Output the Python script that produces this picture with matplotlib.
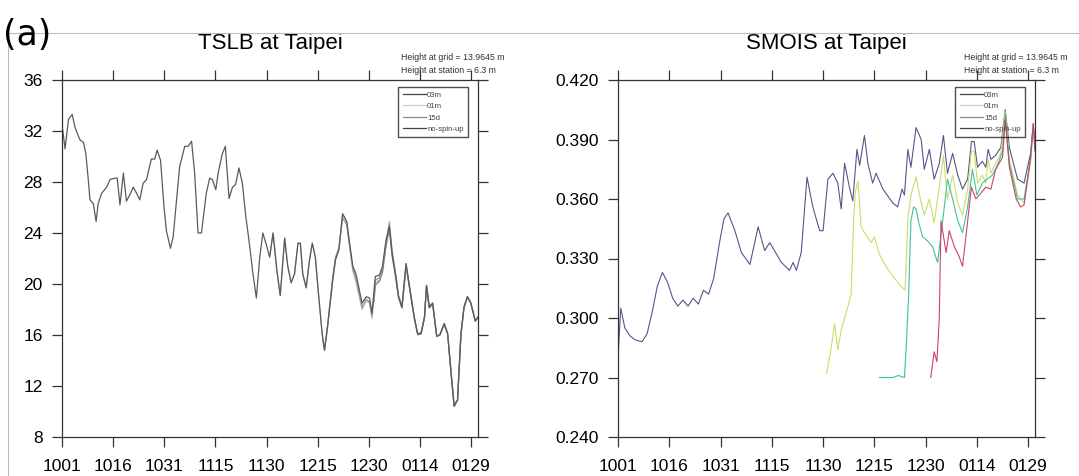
import matplotlib
matplotlib.use("Agg")
import matplotlib.pyplot as plt
from matplotlib.lines import Line2D

plt.rcParams["font.family"] = ["Liberation Sans", "DejaVu Sans"]

# x axis: days since 1 Oct
tick_days = [0, 15, 30, 45, 60, 75, 90, 105, 120]
tick_labels = ["1001", "1016", "1031", "1115", "1130", "1215", "1230", "0114", "0129"]
exp_names = ["03m", "01m", "15d", "no-spin-up"]

# ---- TSLB (left) ----
tslb_03m_day = [0.2, 0.9, 1.9, 2.4, 3.0, 3.8, 4.8, 5.3, 6.3, 7.0,
                7.7, 8.2, 9.2, 10.0, 10.6, 11.6, 13.1, 14.1, 15.5, 16.2,
                17.0, 18.0, 18.9, 19.9, 20.9, 21.9, 22.8, 23.8, 24.8, 26.2,
                27.2, 27.9, 28.9, 29.9, 30.6, 31.8, 32.6, 33.6, 34.5, 36.0,
                37.0, 38.0, 38.9, 39.9, 40.9, 42.3, 43.3, 44.1, 45.1, 45.8,
                47.0, 47.9, 49.0, 50.0, 50.9, 51.9, 52.9, 53.9, 54.8, 56.0,
                57.0, 58.0, 58.9, 59.9, 60.9, 61.9, 63.0, 64.0, 65.3, 66.2,
                67.2, 68.2, 69.2, 69.9, 70.6, 71.6, 72.6, 73.4, 74.3, 75.3,
                76.3, 77.0, 77.9, 79.4, 80.2, 81.2, 82.3, 83.5, 84.5, 85.3,
                86.2, 88.0, 89.2, 90.2, 90.9, 91.9, 93.1, 94.0, 95.0, 96.0,
                96.8, 97.8, 98.7, 99.7, 100.9, 101.9, 103.3, 104.3, 105.3, 106.3,
                106.9, 107.7, 108.7, 109.9, 110.8, 112.1, 113.1, 114.1, 115.0, 116.0,
                117.0, 117.9, 118.9, 119.9, 121.2, 122.0]
tslb_03m = [32.1, 30.6, 32.9, 33.1, 33.3, 32.3, 31.6, 31.3, 31.1, 30.2,
            28.2, 26.6, 26.3, 24.9, 26.3, 27.1, 27.6, 28.2, 28.3, 28.3,
            26.2, 28.7, 26.5, 27.0, 27.6, 27.1, 26.6, 27.9, 28.2, 29.8,
            29.8, 30.5, 29.7, 26.1, 24.2, 22.8, 23.7, 26.6, 29.2, 30.8,
            30.8, 31.2, 28.7, 24.0, 24.0, 27.1, 28.3, 28.2, 27.4, 28.7,
            30.2, 30.8, 26.7, 27.6, 27.8, 29.1, 27.9, 25.3, 23.5, 20.8,
            18.9, 22.1, 24.0, 23.1, 22.1, 24.0, 21.1, 19.1, 23.6, 21.4,
            20.1, 20.8, 23.2, 23.2, 20.8, 19.7, 21.9, 23.2, 22.1, 19.0,
            16.1, 14.8, 16.7, 20.3, 21.9, 22.7, 25.5, 24.9, 22.9, 21.4,
            20.8, 18.5, 19.0, 18.9, 17.7, 20.6, 20.7, 21.4, 23.4, 24.5,
            22.4, 20.8, 19.0, 18.2, 21.6, 19.8, 17.4, 16.1, 16.1, 17.4,
            19.9, 18.2, 18.5, 15.9, 16.0, 16.9, 16.1, 13.0, 10.4, 10.9,
            16.1, 18.2, 19.0, 18.5, 17.1, 17.4]

tslb_01m_day = [61.0, 61.9, 63.0, 64.0, 65.3, 66.2, 67.2, 68.2, 69.2, 69.9,
                70.6, 71.6, 72.6, 73.4, 74.3, 75.3, 76.3, 77.0, 77.9, 79.4,
                80.2, 81.2, 82.3, 83.5, 84.5, 85.3, 86.2, 88.0, 89.2, 90.2,
                90.9, 91.9, 93.1, 94.0, 95.0, 96.0, 96.8, 97.8, 98.7, 99.7,
                100.9, 101.9, 103.3, 104.3, 105.3, 106.3, 106.9, 107.7, 108.7, 109.9,
                110.8, 112.1, 113.1, 114.1, 115.0, 116.0, 117.0, 117.9, 118.9, 119.9,
                121.2, 122.0]
tslb_01m = [22.3, 24.0, 21.1, 19.1, 23.6, 21.4, 20.1, 20.8, 23.2, 23.2,
            20.8, 19.7, 21.9, 23.2, 22.1, 19.0, 16.1, 14.8, 16.7, 20.3,
            21.9, 22.7, 25.5, 24.9, 22.6, 21.0, 20.2, 18.0, 18.7, 18.5,
            17.3, 20.1, 20.3, 21.1, 23.1, 24.9, 22.7, 20.9, 19.1, 18.3,
            21.6, 19.8, 17.4, 16.1, 16.1, 17.4, 19.9, 18.2, 18.5, 15.9,
            16.0, 16.9, 16.1, 13.0, 10.4, 10.9, 16.1, 18.2, 19.0, 18.5,
            17.1, 17.4]

tslb_15d_day = [76.5, 77.0, 77.9, 79.4, 80.2, 81.2, 82.3, 83.5, 84.5, 85.3,
                86.2, 88.0, 89.2, 90.2, 90.9, 91.9, 93.1, 94.0, 95.0, 96.0,
                96.8, 97.8, 98.7, 99.7, 100.9, 101.9, 103.3, 104.3, 105.3, 106.3,
                106.9, 107.7, 108.7, 109.9, 110.8, 112.1, 113.1, 114.1, 115.0, 116.0,
                117.0, 117.9, 118.9, 119.9, 121.2, 122.0]
tslb_15d = [15.6, 14.9, 16.8, 20.6, 22.1, 22.8, 25.2, 24.6, 22.7, 21.2,
            20.5, 18.2, 18.8, 18.6, 17.5, 20.3, 20.5, 21.2, 23.2, 24.7,
            22.5, 20.7, 19.0, 18.2, 21.5, 19.8, 17.4, 16.1, 16.2, 17.4,
            19.8, 18.2, 18.5, 15.9, 16.0, 16.9, 16.1, 13.0, 10.5, 10.9,
            16.1, 18.2, 19.0, 18.5, 17.1, 17.4]

tslb_nsu_day = [91.5, 91.9, 93.1, 94.0, 95.0, 96.0, 96.8, 97.8, 98.7, 99.7,
                100.9, 101.9, 103.3, 104.3, 105.3, 106.3, 106.9, 107.7, 108.7, 109.9,
                110.8, 112.1, 113.1, 114.1, 115.0, 116.0, 117.0, 117.9, 118.9, 119.9,
                121.2, 122.0]
tslb_nsu = [18.6, 19.9, 20.2, 20.9, 22.9, 24.3, 22.2, 20.6, 18.9, 18.1,
            21.4, 19.7, 17.3, 16.0, 16.1, 17.3, 19.8, 18.1, 18.4, 15.9,
            16.0, 16.8, 16.1, 13.1, 10.5, 10.9, 16.0, 18.1, 19.0, 18.5,
            17.1, 17.4]

# ---- SMOIS (right) ----
smois_03m_day = [0.0, 0.8, 2.0, 3.5, 5.0, 7.0, 8.5, 10.0, 11.5, 13.0,
                 14.5, 16.0, 17.5, 19.0, 20.5, 22.0, 23.5, 25.0, 26.5, 28.0,
                 29.8, 31.0, 32.2, 34.2, 36.1, 38.6, 41.0, 42.9, 44.4, 47.8,
                 50.2, 51.2, 52.2, 53.6, 55.3, 57.0, 59.0, 60.0, 61.4, 62.9,
                 64.3, 65.3, 66.3, 67.7, 68.7, 69.9, 70.7, 72.1, 73.1, 74.5,
                 75.5, 77.5, 80.4, 81.8, 83.1, 83.8, 84.8, 85.7, 87.2, 88.7,
                 89.6, 91.1, 92.5, 94.0, 95.2, 96.4, 97.9, 99.4, 100.8, 102.3,
                 103.4, 104.2, 105.2, 106.6, 107.6, 108.3, 109.1, 110.5, 112.0, 113.3,
                 114.5, 116.9, 118.8, 120.7, 121.5, 122.0]
smois_03m = [0.280, 0.305, 0.295, 0.291, 0.289, 0.288, 0.292, 0.303, 0.316, 0.323,
             0.318, 0.310, 0.306, 0.309, 0.306, 0.310, 0.307, 0.314, 0.312, 0.320,
             0.339, 0.350, 0.353, 0.344, 0.333, 0.327, 0.346, 0.334, 0.338, 0.328,
             0.324, 0.328, 0.324, 0.333, 0.371, 0.356, 0.344, 0.344, 0.370, 0.373,
             0.368, 0.355, 0.378, 0.366, 0.359, 0.385, 0.377, 0.392, 0.378, 0.368,
             0.373, 0.365, 0.358, 0.356, 0.365, 0.362, 0.385, 0.376, 0.396, 0.390,
             0.375, 0.385, 0.370, 0.378, 0.392, 0.373, 0.383, 0.372, 0.365, 0.370,
             0.389, 0.389, 0.376, 0.379, 0.376, 0.385, 0.380, 0.382, 0.386, 0.405,
             0.386, 0.370, 0.368, 0.383, 0.398, 0.386]

smois_01m_day = [61.0, 62.2, 63.4, 64.3, 65.3, 66.3, 67.3, 68.2, 69.0, 69.5,
                 70.2, 70.7, 71.1, 72.5, 74.1, 75.0, 76.5, 78.4, 80.4, 82.8,
                 84.0, 84.8, 85.7, 87.2, 88.7, 89.6, 91.1, 92.5, 94.0, 95.2,
                 96.4, 97.9, 99.4, 100.8, 102.3, 103.4, 104.2, 105.2, 106.6, 107.6,
                 108.3, 109.1, 110.5, 112.0, 113.3, 114.5, 116.9, 118.8, 120.7, 121.5,
                 122.0]
smois_01m = [0.272, 0.283, 0.297, 0.284, 0.294, 0.300, 0.306, 0.312, 0.352, 0.364,
             0.369, 0.358, 0.346, 0.342, 0.338, 0.341, 0.332, 0.326, 0.321, 0.316,
             0.314, 0.350, 0.362, 0.371, 0.358, 0.352, 0.360, 0.348, 0.366, 0.382,
             0.360, 0.372, 0.358, 0.352, 0.365, 0.384, 0.384, 0.368, 0.372, 0.368,
             0.380, 0.373, 0.378, 0.383, 0.404, 0.380, 0.362, 0.358, 0.378, 0.396,
             0.384]

smois_15d_day = [76.5, 78.4, 80.4, 82.0, 83.8, 84.3, 85.0, 85.7, 86.5, 87.2,
                 88.0, 89.1, 90.5, 92.0, 93.5, 95.0, 96.4, 97.9, 99.4, 100.8,
                 102.3, 103.7, 105.0, 106.6, 108.0, 109.5, 111.0, 112.5, 113.3, 114.5,
                 116.9, 118.8, 120.7, 121.5, 122.0]
smois_15d = [0.270, 0.270, 0.270, 0.271, 0.270, 0.285, 0.310, 0.349, 0.356, 0.355,
             0.348, 0.341, 0.339, 0.336, 0.328, 0.349, 0.370, 0.360, 0.349, 0.343,
             0.356, 0.375, 0.362, 0.368, 0.370, 0.372, 0.377, 0.384, 0.403, 0.378,
             0.360, 0.360, 0.380, 0.397, 0.384]

smois_nsu_day = [91.5, 92.5, 93.3, 94.0, 94.5, 96.0, 96.9, 98.4, 99.8, 100.8,
                 102.3, 103.4, 104.7, 106.2, 107.6, 109.1, 110.5, 112.5, 113.3, 114.5,
                 116.5, 117.8, 118.8, 120.7, 121.5, 122.0]
smois_nsu = [0.270, 0.283, 0.278, 0.300, 0.349, 0.333, 0.344, 0.336, 0.331, 0.326,
             0.349, 0.366, 0.360, 0.363, 0.366, 0.365, 0.375, 0.381, 0.400, 0.376,
             0.360, 0.356, 0.357, 0.381, 0.398, 0.385]

legend_grays = ["#444444", "#cccccc", "#888888", "#444444"]

W, H = 1079, 476
fig = plt.figure(figsize=(W / 100, H / 100), dpi=100)

# light page frame
fig.add_artist(Line2D([8 / W, 1.0], [1 - 33 / H, 1 - 33 / H], color="#bbbbbb", lw=0.8))
fig.add_artist(Line2D([8 / W, 8 / W], [0.0, 1 - 33 / H], color="#bbbbbb", lw=0.8))

ax1 = fig.add_axes([62 / W, 39 / H, 416 / W, 357 / H])
ax2 = fig.add_axes([618 / W, 39 / H, 417 / W, 357 / H])

ax1.plot(tslb_01m_day, tslb_01m, color="#b5b5b5", lw=0.9)
ax1.plot(tslb_15d_day, tslb_15d, color="#999999", lw=0.9)
ax1.plot(tslb_nsu_day, tslb_nsu, color="#8a8a8a", lw=0.9)
ax1.plot(tslb_03m_day, tslb_03m, color="#5a5a5a", lw=0.9)

ax2.plot(smois_03m_day, smois_03m, color="#55558a", lw=0.8)
ax2.plot(smois_01m_day, smois_01m, color="#cfdc6a", lw=0.8)
ax2.plot(smois_15d_day, smois_15d, color="#3cc49a", lw=0.8)
ax2.plot(smois_nsu_day, smois_nsu, color="#cc4466", lw=0.8)

ax1.set_ylim(8, 36)
ax1.set_yticks([8, 12, 16, 20, 24, 28, 32, 36])
ax2.set_ylim(0.24, 0.42)
ax2.set_yticks([0.24, 0.27, 0.30, 0.33, 0.36, 0.39, 0.42])
ax2.set_yticklabels([f"{v:.3f}" for v in [0.24, 0.27, 0.30, 0.33, 0.36, 0.39, 0.42]])

titles = ["TSLB at Taipei", "SMOIS at Taipei"]
note_x = [0.815, 0.83]
for ax, title, nx in zip([ax1, ax2], titles, note_x):
    ax.set_xlim(0, 122)
    ax.set_xticks(tick_days)
    ax.set_xticklabels(tick_labels)
    ax.tick_params(direction="out", length=7, width=0.9, color="#333333",
                   top=True, right=True, labelsize=12.5)
    ax.tick_params(axis="x", pad=9)
    ax.tick_params(axis="y", pad=7)
    for s in ax.spines.values():
        s.set_color("#333333")
        s.set_linewidth(0.9)
    ax.text(0.5, 1 + 36 / 357, title, transform=ax.transAxes,
            ha="center", va="center", fontsize=16)
    ax.text(nx, 1 + 22 / 357, "Height at grid = 13.9645 m", transform=ax.transAxes,
            ha="left", va="center", fontsize=6.3, color="#333333")
    ax.text(nx, 1 + 10 / 357, "Height at station = 6.3 m", transform=ax.transAxes,
            ha="left", va="center", fontsize=6.3, color="#333333")
    handles = [Line2D([], [], color=c, lw=0.9) for c in legend_grays]
    leg = ax.legend(handles, exp_names, loc="upper right",
                    bbox_to_anchor=(0.976, 0.98), borderaxespad=0,
                    fontsize=5.6, handlelength=3.0, handletextpad=0.15,
                    labelspacing=0.5, borderpad=0.55, fancybox=False)
    frame = leg.get_frame()
    frame.set_facecolor("none")
    frame.set_edgecolor("#222222")
    frame.set_linewidth(1.0)
    for t in leg.get_texts():
        t.set_color("#444444")

fig.text(3 / W, 1 - 35 / H, "(a)", fontsize=25, family=["DejaVu Sans"],
         ha="left", va="center")

fig.savefig("out.png", dpi=100)
